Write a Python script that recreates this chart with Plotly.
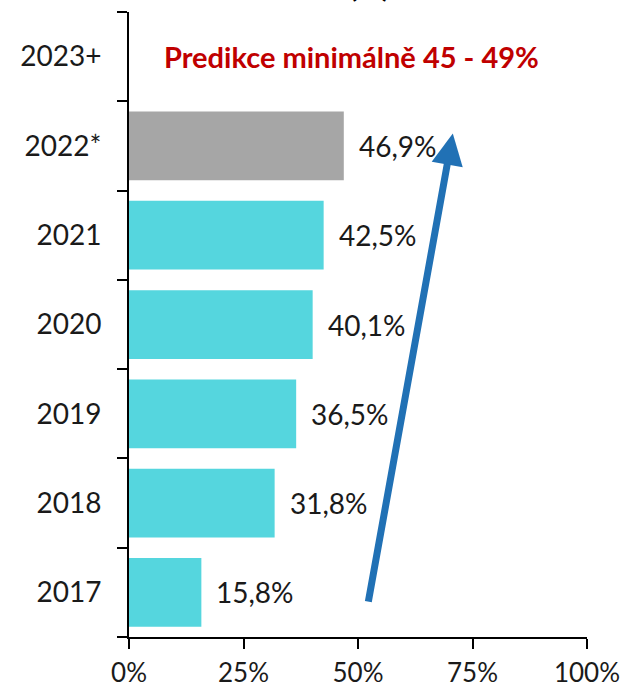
import plotly.graph_objects as go

# data
roky = ["2017", "2018", "2019", "2020", "2021", "2022*", "2023+"]
hodnoty = [15.8, 31.8, 36.5, 40.1, 42.5, 46.9, None]
popisky = ["15,8%", "31,8%", "36,5%", "40,1%", "42,5%", "46,9%", ""]
x_ticks = [0, 25, 50, 75, 100]
x_labels = ["0%", "25%", "50%", "75%", "100%"]

barvy = ["#55d6de"] * 5 + ["#a6a6a6", "#a6a6a6"]
font_name = "Lato"
text_color = "#1a1a1a"

fig = go.Figure()

fig.add_trace(
    go.Bar(
        y=roky,
        x=hodnoty,
        orientation="h",
        marker={"color": barvy, "line": {"width": 0}},
        hoverinfo="skip",
    )
)

# popisky hodnot (y jako index kategorie, "2017" by se bralo jako cislo)
for i, (val, txt) in enumerate(zip(hodnoty, popisky)):
    if val is None:
        continue
    fig.add_annotation(
        x=val, y=i, text=txt, showarrow=False,
        xanchor="left", xshift=13,
        font={"family": font_name, "size": 28, "color": text_color},
    )

# sipka trendu
fig.add_annotation(
    x=70.7, y=5.14, ax=52.2, ay=-0.12,
    xref="x", yref="y", axref="x", ayref="y",
    text="", showarrow=True,
    arrowhead=2, arrowsize=0.9, arrowwidth=7, arrowcolor="#2171b5",
)

fig.add_annotation(
    x=0.485, y=6, xref="paper", yref="y",
    text="<b>Predikce minimálně 45 - 49%</b>", showarrow=False,
    font={"family": font_name, "size": 29, "color": "#c00000"},
)

# zbytek nadpisu nahore
fig.add_annotation(
    x=0.525, y=1, xref="paper", yref="paper",
    yanchor="bottom", yshift=7,
    text="<b>(%)</b>", showarrow=False,
    font={"family": font_name, "size": 30, "color": "#000000"},
)

fig.update_layout(
    width=628,
    height=691,
    margin={"l": 129, "r": 41, "t": 12, "b": 54},
    plot_bgcolor="white",
    paper_bgcolor="white",
    showlegend=False,
    bargap=0.23,
    font={"family": font_name, "size": 28, "color": text_color},
)

fig.update_xaxes(
    range=[0, 100],
    tickvals=x_ticks,
    ticktext=x_labels,
    tickfont={"size": 26},
    showgrid=False,
    zeroline=False,
    showline=True,
    linecolor="#000000",
    linewidth=2,
    ticks="outside",
    ticklen=10,
    tickwidth=2,
    tickcolor="#000000",
    ticklabelstandoff=2,
    automargin=False,
)

fig.update_yaxes(
    categoryorder="array",
    categoryarray=roky,
    range=[-0.5, 6.5],
    tickson="boundaries",
    showgrid=False,
    showline=True,
    linecolor="#000000",
    linewidth=2,
    ticks="outside",
    ticklen=10,
    tickwidth=2,
    tickcolor="#000000",
    ticklabelstandoff=20,
    automargin=False,
)

# bez okraje stranky, at graf sedi presne do okna
fig.write_html(
    "out.html",
    config={"displayModeBar": False},
    post_script="document.body.style.margin = '0';",
)
